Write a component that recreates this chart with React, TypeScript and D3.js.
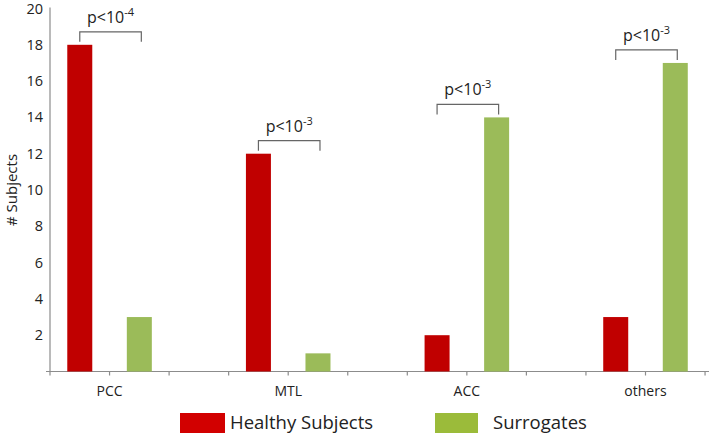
import * as d3 from "d3";

const categories = ["PCC", "MTL", "ACC", "others"];
const healthy = [18, 12, 2, 3];
const surrogates = [3, 1, 14, 17];
const pExponents = ["-4", "-3", "-3", "-3"];
const yTicks = [2, 4, 6, 8, 10, 12, 14, 16, 18, 20];

const W = 709;
const H = 436;
const RED = "#C00000";
const GREEN = "#9BBB59";
const FONT = "'Open Sans', sans-serif";

export default function App() {
  // every category takes 3 slots: healthy, surrogate, empty gap
  const slots = categories.flatMap((c) => [`${c}|h`, `${c}|s`, `${c}|g`]);
  const x = d3.scaleBand<string>().domain(slots).range([50, 50 + 12 * 59.55]);
  const y = d3.scaleLinear().domain([0, 20]).range([371.5, 8.5]);
  const bw = 25;
  const cx = (k: string) => x(k)! + x.bandwidth() / 2;

  return (
    <svg width={W} height={H} style={{ display: "block", position: "absolute", left: 0, top: 0 }} fontFamily={FONT}>
      {/* y axis */}
      <line x1={50} x2={50} y1={y(20) - 1} y2={y(0)} stroke="#8c8c8c" strokeWidth={1.2} />
      {yTicks.map((t) => (
        <text key={t} x={43} y={y(t)} dy="0.35em" textAnchor="end" fontSize={14.5} fill="#222">
          {t}
        </text>
      ))}
      <text transform={`translate(17,${(y(0) + y(20)) / 2}) rotate(-90)`} textAnchor="middle" fontSize={15} fill="#222">
        # Subjects
      </text>

      {/* x axis */}
      <line x1={46} x2={W} y1={y(0)} y2={y(0)} stroke="#8c8c8c" strokeWidth={1.2} />
      {slots.map((s) => (
        <line key={s} x1={x(s)!} x2={x(s)!} y1={y(0)} y2={y(0) + 4} stroke="#8c8c8c" strokeWidth={1.2} />
      ))}

      {/* bars */}
      {categories.map((c, i) => (
        <g key={c}>
          <rect x={cx(`${c}|h`) - bw / 2} y={y(healthy[i])} width={bw} height={y(0) - y(healthy[i])} fill={RED} />
          <rect x={cx(`${c}|s`) - bw / 2} y={y(surrogates[i])} width={bw} height={y(0) - y(surrogates[i])} fill={GREEN} />
          <text x={x(`${c}|s`)!} y={396} textAnchor="middle" fontSize={14} fill="#222">
            {c}
          </text>
        </g>
      ))}

      {/* significance brackets */}
      {categories.map((c, i) => {
        const top = y(Math.max(healthy[i], surrogates[i]));
        const x1 = cx(`${c}|h`);
        const x2 = cx(`${c}|s`) + 2;
        const by = top - 13;
        return (
          <g key={`p-${c}`}>
            <path d={`M${x1},${top - 3}V${by}H${x2}V${top - 3}`} fill="none" stroke="#666" strokeWidth={1.2} />
            <text x={(x1 + x2) / 2} y={by - 9} textAnchor="middle" fontSize={16} fill="#222">
              p&lt;10
              <tspan fontSize={11} dy={-7}>
                {pExponents[i]}
              </tspan>
            </text>
          </g>
        );
      })}

      {/* legend */}
      <rect x={180} y={413} width={45} height={20} fill="#D20000" />
      <text x={230} y={429} fontSize={18.5} fill="#222">
        Healthy Subjects
      </text>
      <rect x={435} y={413} width={43} height={20} fill="#9BBB3A" />
      <text x={493} y={429} fontSize={18.5} fill="#222">
        Surrogates
      </text>
    </svg>
  );
}
